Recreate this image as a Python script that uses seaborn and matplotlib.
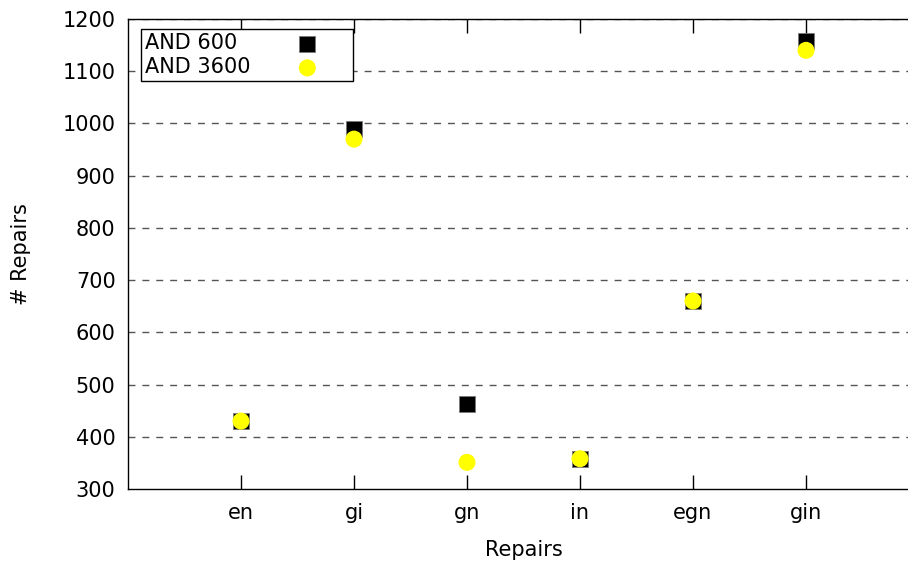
import matplotlib
matplotlib.use("Agg")
import matplotlib.pyplot as plt
import seaborn as sns
import pandas as pd

categories = ["en", "gi", "gn", "in", "egn", "gin"]
and_600 = [430, 990, 462, 358, 660, 1158]
and_3600 = [430, 970, 351, 358, 660, 1140]
y_ticks = [300, 400, 500, 600, 700, 800, 900, 1000, 1100, 1200]

df = pd.DataFrame({
    "pos": list(range(len(categories))) * 2,
    "repairs": and_600 + and_3600,
    "series": ["AND 600"] * len(categories) + ["AND 3600"] * len(categories),
})

sns.set_style("white")
plt.rcParams["font.family"] = ["DejaVu Sans"]
plt.rcParams.update({"text.color": "black", "axes.labelcolor": "black",
                     "xtick.color": "black", "ytick.color": "black"})

fig = plt.figure(figsize=(9.08, 5.62), dpi=100)
W, H = 908, 562
# plot area runs past the right edge of the canvas
ax = fig.add_axes([128 / W, 1 - 489 / H, (919 - 128) / W, (489 - 19) / H])

for y in y_ticks[1:]:
    ax.axhline(y, color="#555555", lw=1.0, ls=(0, (5, 5)), zorder=1)

# figure space keeps both legend labels the same width
sns.scatterplot(data=df[df.series == "AND 600"], x="pos", y="repairs", ax=ax,
                marker="s", s=135, color="black", edgecolor="#777777",
                linewidth=0.5, label="AND 600\u2007", zorder=3)
sns.scatterplot(data=df[df.series == "AND 3600"], x="pos", y="repairs", ax=ax,
                marker="o", s=150, color="#ffff00", edgecolor="none",
                linewidth=0, label="AND 3600", zorder=4)

ax.set_xlim(-1, 6)
ax.set_ylim(300, 1200)
ax.set_xticks(range(len(categories)))
ax.set_xticklabels(categories)
ax.set_yticks(y_ticks)

for side in ["left", "bottom", "top"]:
    ax.spines[side].set_visible(True)
    ax.spines[side].set_color("black")
    ax.spines[side].set_linewidth(1.0)
ax.spines["right"].set_visible(False)

ax.tick_params(axis="x", direction="in", length=10, width=1, top=True,
               bottom=True, labelsize=15, pad=10, colors="black")
ax.tick_params(axis="y", direction="in", length=0, labelsize=15, pad=9,
               colors="black")

ax.set_xlabel("Repairs", fontsize=15, labelpad=12, color="black")
ax.set_ylabel("# Repairs", fontsize=15, labelpad=23, color="black")

leg = ax.legend(loc="upper left", bbox_to_anchor=((141 - 128) / 791, 1 - (29 - 19) / 470),
                markerfirst=False, frameon=True, fancybox=False, fontsize=15,
                borderpad=0.2, labelspacing=0.2, handletextpad=0.72,
                handlelength=4.0, borderaxespad=0)
leg.get_frame().set_edgecolor("black")
leg.get_frame().set_linewidth(1.0)
leg.get_frame().set_alpha(1)
for t in leg.get_texts():
    t.set_color("black")

fig.savefig("out.png", dpi=100)
